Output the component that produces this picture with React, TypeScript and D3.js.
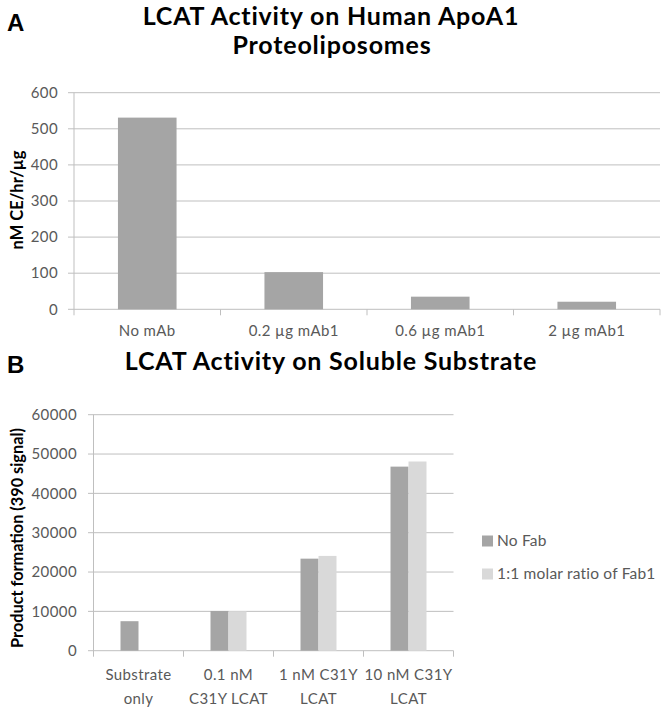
import React from "react";
import * as d3 from "d3";

const catsA = ["No mAb", "0.2 µg mAb1", "0.6 µg mAb1", "2 µg mAb1"];
const valsA = [531, 103, 35, 21];
const ticksA = [0, 100, 200, 300, 400, 500, 600];

const catsB = [["Substrate", "only"], ["0.1 nM", "C31Y LCAT"], ["1 nM C31Y", "LCAT"], ["10 nM C31Y", "LCAT"]];
const seriesB = ["No Fab", "1:1 molar ratio of Fab1"];
const noFab = [7500, 10100, 23400, 46800];
const withFab = [0, 10000, 24100, 48100];
const ticksB = [0, 10000, 20000, 30000, 40000, 50000, 60000];

const FONT = "Lato, 'Open Sans', sans-serif";
const GRID = "#bfbfbf";
const TICKTXT = "#595959";
const DARK = "#a5a5a5";
const LIGHT = "#d9d9d9";

export default function App() {
  // Chart A
  const yA = d3.scaleLinear().domain([0, 600]).range([309.3, 92.7]);
  const xA = d3.scaleBand().domain(catsA).range([74, 660]).paddingInner(0.6).paddingOuter(0.3);
  const stepA = (660 - 74) / catsA.length;

  // Chart B
  const yB = d3.scaleLinear().domain([0, 60000]).range([650.7, 414.7]);
  const keysB = catsB.map((c) => c.join(" "));
  const xB = d3.scaleBand().domain(keysB).range([93.5, 453.5]).paddingInner(0.6).paddingOuter(0.3);
  const xBi = d3.scaleBand().domain(seriesB).range([0, xB.bandwidth()]);
  const stepB = (453.5 - 93.5) / catsB.length;
  const seriesVals = [noFab, withFab];
  const seriesCol = [DARK, LIGHT];

  const tickStyle = { letterSpacing: "0.4px" } as React.CSSProperties;
  const titleStyle = { letterSpacing: "0.8px" } as React.CSSProperties;

  return (
    <svg width={667} height={708} style={{ display: "block", position: "absolute", left: 0, top: 0, background: "#fff" }} fontFamily={FONT}>
      <rect x={0} y={0} width={667} height={708} fill="#fff" />
      {/* Panel letters */}
      <text x={7} y={31} fontFamily="'Liberation Sans', Arial, sans-serif" fontWeight="bold" fontSize={24} fill="#000">A</text>
      <text x={7} y={373} fontFamily="'Liberation Sans', Arial, sans-serif" fontWeight="bold" fontSize={24} fill="#000">B</text>

      {/* Chart A title */}
      <text x={331} y={25} textAnchor="middle" fontSize={25} fontWeight="bold" fill="#000" style={titleStyle}>LCAT Activity on Human ApoA1</text>
      <text x={332} y={54} textAnchor="middle" fontSize={25} fontWeight="bold" fill="#000" style={titleStyle}>Proteoliposomes</text>

      {/* Chart A grid */}
      {ticksA.map((t) => (
        <g key={"ga" + t}>
          <line x1={68} x2={660} y1={yA(t)} y2={yA(t)} stroke={GRID} strokeWidth={1} />
          <text x={58} y={yA(t)} dy="0.35em" textAnchor="end" fontSize={15} fill={TICKTXT} style={tickStyle}>{t}</text>
        </g>
      ))}
      <line x1={74} x2={74} y1={yA(600)} y2={yA(0) + 6} stroke={GRID} />
      {catsA.map((c, i) => (
        <line key={"ta" + i} x1={74 + stepA * (i + 1)} x2={74 + stepA * (i + 1)} y1={yA(0)} y2={yA(0) + 6} stroke={GRID} />
      ))}
      {catsA.map((c, i) => (
        <rect key={"ba" + i} x={xA(c)} y={yA(valsA[i])} width={xA.bandwidth()} height={yA(0) - yA(valsA[i])} fill={DARK} />
      ))}
      {catsA.map((c, i) => (
        <text key={"la" + i} x={(xA(c) as number) + xA.bandwidth() / 2} y={336} textAnchor="middle" fontSize={15} fill={TICKTXT} style={tickStyle}>{c}</text>
      ))}
      <text transform={`translate(17,200) rotate(-90)`} textAnchor="middle" dy="0.35em" fontSize={16.5} fontWeight="bold" fill="#000">nM CE/hr/µg</text>

      {/* Chart B title */}
      <text x={331} y={370} textAnchor="middle" fontSize={25} fontWeight="bold" fill="#000" style={titleStyle}>LCAT Activity on Soluble Substrate</text>

      {/* Chart B grid */}
      {ticksB.map((t) => (
        <g key={"gb" + t}>
          <line x1={88} x2={453.5} y1={yB(t)} y2={yB(t)} stroke={GRID} strokeWidth={1} />
          <text x={77} y={yB(t)} dy="0.35em" textAnchor="end" fontSize={15} fill={TICKTXT} style={tickStyle}>{t}</text>
        </g>
      ))}
      <line x1={93.5} x2={93.5} y1={yB(60000)} y2={yB(0) + 6} stroke={GRID} />
      {catsB.map((c, i) => (
        <line key={"tb" + i} x1={93.5 + stepB * (i + 1)} x2={93.5 + stepB * (i + 1)} y1={yB(0)} y2={yB(0) + 6} stroke={GRID} />
      ))}
      {keysB.map((k, i) => (
        <g key={"bg" + i} transform={`translate(${xB(k)},0)`}>
          {seriesB.map((s, j) => {
            const v = seriesVals[j][i];
            if (!v) return null;
            return <rect key={s} x={xBi(s)} y={yB(v)} width={xBi.bandwidth()} height={yB(0) - yB(v)} fill={seriesCol[j]} />;
          })}
        </g>
      ))}
      {catsB.map((c, i) => (
        <g key={"lb" + i}>
          {c.map((line, j) => (
            <text key={j} x={(xB(keysB[i]) as number) + xB.bandwidth() / 2} y={680 + j * 24} textAnchor="middle" fontSize={15} fill={TICKTXT} style={tickStyle}>{line}</text>
          ))}
        </g>
      ))}
      <text transform={`translate(17,538) rotate(-90)`} textAnchor="middle" dy="0.35em" fontSize={16.3} fontWeight="bold" fill="#000">Product formation (390 signal)</text>

      {/* Legend B */}
      {seriesB.map((s, j) => (
        <g key={"lg" + j} transform={`translate(482,${541 + j * 33})`}>
          <rect x={0} y={-5.5} width={11} height={11} fill={seriesCol[j]} />
          <text x={15} y={0} dy="0.35em" fontSize={15.5} fill={TICKTXT} style={{ letterSpacing: "0.2px" }}>{s}</text>
        </g>
      ))}
    </svg>
  );
}
